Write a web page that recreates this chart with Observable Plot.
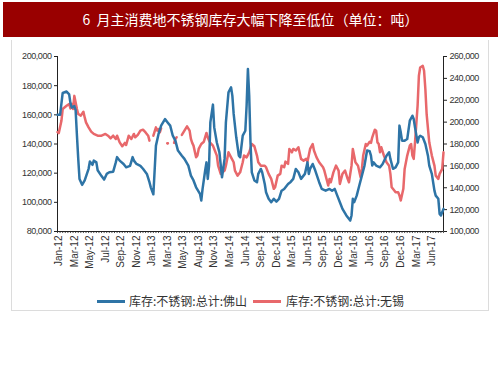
<!DOCTYPE html>
<html>
<head>
<meta charset="utf-8">
<script src="https://cdn.jsdelivr.net/npm/d3@7"></script>
<script src="https://cdn.jsdelivr.net/npm/@observablehq/plot@0.6"></script>
<style>
  html, body { margin: 0; padding: 0; background: #fff; }
  body { width: 503px; height: 378px; position: relative; overflow: hidden; }
  #title { position: absolute; left: 3px; top: 2px; width: 495px; height: 35px; background: #990000;
    color: #fff; font: 14px "Noto Sans CJK SC", sans-serif; line-height: 35px; text-align: center; }
  #frame { position: absolute; left: 11px; top: 40px; width: 476px; height: 270px; border: 1px solid #dcdcdc; border-top: none; }
  #chart { position: absolute; left: 0; top: 40px; }
  #chart [aria-label="y-axis tick label"] text { letter-spacing: -0.45px; }
  #legend { position: absolute; top: 292px; left: 0; width: 503px; height: 18px; font: 12px "Noto Sans CJK SC", sans-serif; color: #333; }
  .sw { position: absolute; top: 8px; height: 3px; width: 28px; }
  .lt { position: absolute; top: 0; line-height: 18px; white-space: nowrap; }
</style>
</head>
<body>
<div id="title">6&nbsp; 月主消费地不锈钢库存大幅下降至低位（单位：吨）</div>
<div id="frame"></div>
<div id="chart"></div>
<div id="legend"></div>
<script>
// ---- data ----
const xLabels = ["Jan-12","Mar-12","May-12","Jul-12","Sep-12","Nov-12","Jan-13","Mar-13","May-13","Aug-13","Nov-13","Mar-14","Jun-14","Sep-14","Dec-14","Mar-15","Jun-15","Sep-15","Dec-15","Mar-16","Jun-16","Sep-16","Dec-16","Mar-17","Jun-17"];
const labelStep = 12;        // weeks between labels
const lastWeek = 298;
const leftTicks = [80000,100000,120000,140000,160000,180000,200000];
const rightTicks = [100000,120000,140000,160000,180000,200000,220000,240000,260000];
const seriesNames = ["库存:不锈钢:总计:佛山", "库存:不锈钢:总计:无锡"];
const seriesColors = ["#2e74a6", "#e8686b"];

// 佛山 (left axis) : [week, tons]
const foshan = [[0,160000],[2,160000],[4,175000],[7,176000],[9,174000],[10,168000],[11,165000],[13,166000],[14,163000],[15,146000],[16,130000],[17,116000],[19,112000],[21,115000],[24,123000],[25,128000],[27,125700],[28,128600],[30,127400],[31,122000],[34,118000],[36,115600],[38,119500],[40,120600],[43,121000],[45,127400],[46,131000],[48,128600],[51,126300],[53,124000],[56,125000],[58,131000],[59,128600],[61,126300],[64,125000],[66,123000],[69,119500],[71,113800],[72,110300],[74,105500],[75,122000],[76,138900],[78,146900],[80,152600],[83,157100],[85,154800],[87,152600],[89,145700],[91,142300],[93,135500],[96,132000],[98,129800],[101,125200],[103,118300],[105,115000],[107,110300],[110,105800],[111,101200],[112,109200],[114,121800],[115,127400],[116,116000],[117,125000],[118,154800],[120,167000],[121,151400],[123,141000],[125,134300],[127,117200],[129,129800],[130,154800],[132,175400],[134,178800],[135,173000],[136,160600],[138,144600],[140,132000],[141,130900],[143,145700],[145,149100],[146,166300],[147,191400],[148,173000],[149,141000],[150,120600],[152,115000],[154,113800],[155,119500],[157,122900],[158,120600],[160,112600],[161,106900],[163,102400],[165,100100],[167,102400],[169,100500],[171,102400],[173,108000],[175,109200],[178,112600],[180,114000],[182,116100],[184,122900],[186,120600],[188,116100],[191,119500],[193,127400],[194,119500],[195,122900],[197,126300],[199,121800],[202,113800],[204,109200],[207,108000],[210,109200],[212,108000],[214,109200],[216,104600],[218,100100],[220,95500],[223,91000],[226,87500],[227,91000],[228,102400],[229,100100],[231,104600],[233,111500],[235,118300],[237,125200],[239,135500],[241,135000],[242,132000],[243,125200],[244,127400],[246,125200],[249,124000],[251,126300],[254,132000],[256,134300],[257,129800],[259,123000],[261,124000],[263,127400],[264,152600],[265,148000],[266,142300],[268,142300],[270,143400],[272,156000],[274,159400],[275,157100],[276,151400],[278,141000],[279,144600],[280,145700],[282,144600],[284,140000],[286,132000],[287,125200],[289,119500],[291,108000],[292,104600],[294,102400],[295,92100],[296,91000],[298,95500]];

// 无锡 (right axis) : [week, tons], null = no data
const wuxi = [[0,191000],[1,190000],[3,201000],[4,212000],[7,215000],[9,216600],[10,212500],[11,216600],[12,212000],[13,224000],[15,212000],[16,207400],[18,205900],[20,209500],[21,204300],[22,199800],[24,195200],[26,191300],[28,189200],[31,187600],[34,187600],[37,189200],[39,187600],[41,185200],[43,187600],[45,184600],[46,187600],[48,181500],[50,177900],[52,181000],[53,179100],[55,187600],[57,184600],[59,189200],[60,186100],[62,188300],[64,192200],[66,193100],[68,190600],[70,187600],[71,183100],[72,null],[74,187600],[76,195200],[77,192200],[78,193700],[79,190600],[80,194300],[83,null],[85,180600],[87,null],[90,181000],[91,184600],[92,186100],[94,null],[96,188300],[98,192200],[100,196100],[102,192200],[103,184600],[104,181000],[105,178500],[107,167800],[108,169400],[109,175500],[111,180000],[113,182100],[115,190100],[116,186100],[117,183100],[118,181000],[120,178500],[121,175500],[123,169400],[124,160200],[126,152700],[129,155700],[130,160200],[132,172400],[134,167800],[136,163300],[137,155700],[139,151100],[141,154100],[143,163300],[144,169400],[146,167800],[148,172400],[150,180000],[152,177900],[154,169400],[155,163300],[157,160200],[160,160200],[161,158700],[163,152700],[165,148100],[167,139000],[168,140400],[170,151100],[172,152700],[173,160200],[175,158700],[176,163900],[178,161800],[179,175500],[181,172400],[182,175500],[184,174000],[186,177000],[188,166400],[190,164800],[192,166400],[193,163900],[195,175500],[197,180000],[198,174000],[200,167800],[202,163300],[205,158700],[206,155700],[208,146600],[209,142000],[210,148100],[211,145000],[213,154100],[215,160200],[217,155700],[218,143500],[220,152700],[222,155700],[224,148100],[225,145000],[227,160200],[228,175500],[229,169400],[230,163300],[232,160200],[234,149600],[235,157200],[236,169400],[238,180000],[239,178500],[241,182100],[242,181000],[243,186100],[245,193100],[246,192200],[247,181500],[248,180000],[249,172400],[250,177000],[252,169400],[254,163300],[256,160200],[257,152700],[258,140400],[260,137400],[261,135900],[263,135900],[264,132900],[265,128300],[267,139000],[268,157200],[270,169400],[272,178500],[273,180000],[274,169400],[275,166400],[276,181500],[278,215000],[279,242400],[280,250000],[282,251500],[283,247000],[284,230200],[285,207000],[287,181500],[289,169400],[291,160200],[292,151100],[294,148100],[295,152700],[297,157200],[298,172400]];

// ---- scales helpers ----
const toLeft = v => v == null ? NaN : 80000 + (v - 100000) * 0.75;
const fromLeft = v => (v - 80000) / 0.75 + 100000;
const fmt = d3.format(",");

const fsData = foshan.map(([w, v]) => ({w, v}));
const wxData = wuxi.map(([w, v]) => ({w, v: toLeft(v)}));
const wxIsolated = wxData.filter((d, i) => !isNaN(d.v) &&
  (i === 0 || isNaN(wxData[i-1].v)) && (i === wxData.length-1 || isNaN(wxData[i+1].v)));
const xTickWeeks = xLabels.map((_, i) => 1 + i * labelStep);
const minorTicks = d3.range(0, lastWeek + 1, 2);

const chart = Plot.plot({
  width: 503, height: 240,
  marginLeft: 57, marginRight: 60, marginTop: 16, marginBottom: 49,
  style: {fontFamily: "'Liberation Sans', Arial, sans-serif", fontSize: "9px", color: "#333", background: "transparent"},
  x: {domain: [0, lastWeek], axis: null},
  y: {domain: [80000, 200000], axis: null},
  marks: [
    Plot.axisY(leftTicks, {anchor: "left", label: null, tickFormat: fmt, tickSize: 3, tickPadding: 3, fontSize: 9, stroke: "#222"}),
    Plot.axisY(rightTicks.map(toLeft), {anchor: "right", label: null, tickFormat: d => fmt(Math.round(fromLeft(d))), tickSize: 3, tickPadding: 3, fontSize: 9, stroke: "#222"}),
    Plot.axisX(xTickWeeks, {anchor: "bottom", label: null, tickRotate: -90, tickSize: 0, tickPadding: 4, fontSize: 10,
      tickFormat: (d) => xLabels[(d - 1) / labelStep]}),
    Plot.ruleX(minorTicks, {x: d => d, y1: 80000, y2: 80000 - 1400, stroke: "#222", strokeWidth: 0.8}),
    Plot.ruleX([0, lastWeek], {y1: 80000, y2: 200000, stroke: "#222", strokeWidth: 1}),
    Plot.ruleY([80000], {stroke: "#222", strokeWidth: 1}),
    Plot.line(wxData, {x: "w", y: "v", stroke: seriesColors[1], strokeWidth: 2.5, strokeLinejoin: "round"}),
    Plot.dot(wxIsolated, {x: "w", y: "v", fill: seriesColors[1], r: 1.4}),
    Plot.line(fsData, {x: "w", y: "v", stroke: seriesColors[0], strokeWidth: 2.5, strokeLinejoin: "round"})
  ]
});
document.getElementById("chart").appendChild(chart);

// legend
const legend = document.getElementById("legend");
const legendPos = [[97, 129], [253, 286]];
seriesNames.forEach((name, i) => {
  const sw = document.createElement("div");
  sw.className = "sw"; sw.style.left = legendPos[i][0] + "px"; sw.style.background = seriesColors[i];
  const t = document.createElement("div");
  t.className = "lt"; t.style.left = legendPos[i][1] + "px"; t.textContent = name;
  legend.appendChild(sw); legend.appendChild(t);
});
</script>
</body>
</html>
